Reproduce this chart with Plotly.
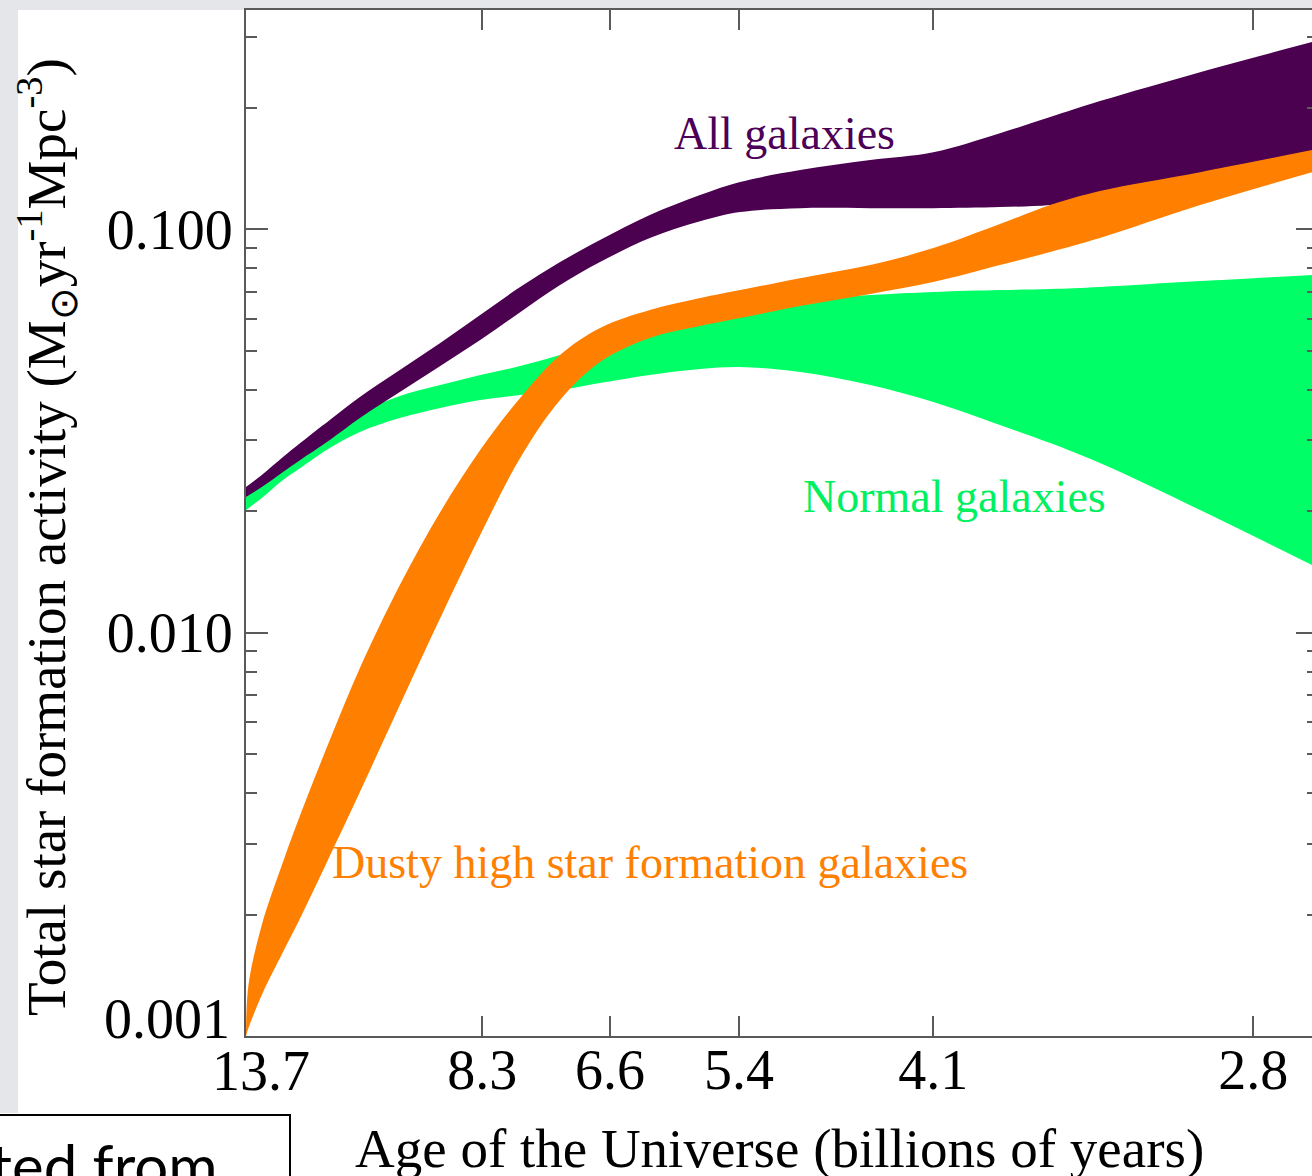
import plotly.graph_objects as go

# Abscissa is redshift; tick labels give the corresponding age of the Universe (Gyr)
z = [0.0, 0.032, 0.075, 0.110, 0.170, 0.231, 0.312, 0.394, 0.475, 0.556, 0.637, 0.718,
     0.819, 0.921, 1.002, 1.124, 1.266, 1.394, 1.529, 1.631, 1.732, 1.935, 2.162]

# All galaxies (upper / lower envelope), Msun yr^-1 Mpc^-3
all_hi = [0.02294, 0.02457, 0.02722, 0.02948, 0.03362, 0.03834, 0.04473, 0.05219, 0.06120,
          0.07183, 0.08283, 0.09391, 0.1083, 0.1214, 0.1308, 0.1400, 0.1483, 0.1551,
          0.1729, 0.1895, 0.2076, 0.2449, 0.2907]
all_lo = [0.02167, 0.02294, 0.02500, 0.02677, 0.03000, 0.03400, 0.03945, 0.04577, 0.05308,
          0.06225, 0.07265, 0.08283, 0.09500, 0.1045, 0.1102, 0.1127, 0.1127, 0.1127,
          0.1134, 0.1147, 0.1194, 0.1323, 0.1483]

# Normal galaxies
normal_hi = [0.02167, 0.02347, 0.02646, 0.02882, 0.03231, 0.03520, 0.03857, 0.04106, 0.04347,
             0.04577, 0.04873, 0.05219, 0.05620, 0.06017, 0.06370, 0.06668, 0.06862, 0.06982,
             0.07060, 0.07101, 0.07183, 0.07431, 0.07691]
normal_lo = [0.02012, 0.02154, 0.02387, 0.02557, 0.02866, 0.03140, 0.03400, 0.03600, 0.03770,
             0.03879, 0.03990, 0.04153, 0.04347, 0.04498, 0.04550, 0.04421, 0.04106, 0.03726,
             0.03268, 0.02948, 0.02630, 0.02012, 0.01470]

# Dusty high star formation galaxies
z_dusty = [0.0, 0.005, 0.032, 0.075, 0.110, 0.170, 0.231, 0.312, 0.394, 0.475, 0.556, 0.637,
           0.718, 0.819, 0.921, 1.002, 1.124, 1.266, 1.394, 1.529, 1.631, 1.732, 1.935, 2.162]
dusty_hi = [0.00100, 0.001338, 0.001884, 0.002699, 0.003530, 0.005415, 0.008166, 0.01311,
            0.01989, 0.02833, 0.03814, 0.04873, 0.05685, 0.06299, 0.06745, 0.07060, 0.07558,
            0.08142, 0.08972, 0.1029, 0.1147, 0.1243, 0.1384, 0.1570]
dusty_lo = [0.00100, 0.001047, 0.001264, 0.001615, 0.001961, 0.002793, 0.004024, 0.006611,
            0.01086, 0.01744, 0.02707, 0.03770, 0.04683, 0.05370, 0.05749, 0.06017, 0.06447,
            0.06901, 0.07388, 0.08142, 0.08770, 0.09500, 0.1147, 0.1384]

age_tick_z = [0.0, 0.479, 0.738, 1.0, 1.394, 2.043]
age_tick_text = ["13.7", "8.3", "6.6", "5.4", "4.1", "2.8"]
sfr_ticks = [0.001, 0.01, 0.1]
sfr_tick_text = ["0.001", "0.010", "0.100"]

PURPLE = "#4b0050"
GREEN = "#00ff66"
ORANGE = "#ff8000"
AXIS = "#5a5a5a"
SERIF = "Liberation Serif, Times New Roman, serif"
TICK_SIZE = 56

W, H = 1312, 1176
L, R, T, B = 246, 0, 10, 140


def px_x(px):
    return (px - L) / (W - L - R)


def px_y(py):
    return (H - B - py) / (H - T - B)


def band(fig, x, hi, lo, color):
    # lower envelope (invisible) followed by the upper envelope filled down to it
    fig.add_trace(go.Scatter(
        x=x, y=lo, mode="lines",
        line=dict(width=0, color=color, shape="spline", smoothing=1.0),
        hoverinfo="skip", showlegend=False))
    fig.add_trace(go.Scatter(
        x=x, y=hi, mode="lines", fill="tonexty", fillcolor=color,
        line=dict(width=0, color=color, shape="spline", smoothing=1.0),
        hoverinfo="skip", showlegend=False))


fig = go.Figure()
band(fig, z, normal_hi, normal_lo, GREEN)
band(fig, z, all_hi, all_lo, PURPLE)
band(fig, z_dusty, dusty_hi, dusty_lo, ORANGE)
fig.add_trace(go.Scatter(x=[], y=[], yaxis="y2", showlegend=False))

minor_vals = [m * d for d in (0.001, 0.01, 0.1) for m in range(2, 10)]
yrange = [-3, -0.457]

# the corner labels (13.7 and 0.001) are drawn separately, nudged off the corner
x_text = [""] + age_tick_text[1:]
y_text = [""] + sfr_tick_text[1:]

fig.update_layout(
    width=W, height=H,
    margin=dict(l=L, r=R, t=T, b=B),
    paper_bgcolor="white", plot_bgcolor="white",
    font=dict(family=SERIF, color="black"),
    xaxis=dict(
        range=[0, 2.162], tickvals=age_tick_z, ticktext=x_text,
        ticks="inside", ticklen=20, tickwidth=2, tickcolor=AXIS,
        showline=True, linecolor=AXIS, linewidth=2, mirror="ticks",
        showgrid=False, zeroline=False, ticklabelstandoff=-16,
        tickfont=dict(size=TICK_SIZE, family=SERIF),
    ),
    yaxis=dict(
        type="log", range=yrange, tickvals=sfr_ticks, ticktext=y_text,
        ticks="inside", ticklen=22, tickwidth=2, tickcolor=AXIS,
        showline=True, linecolor=AXIS, linewidth=2,
        showgrid=False, zeroline=False, tickfont=dict(size=TICK_SIZE, family=SERIF),
        minor=dict(tickvals=minor_vals, ticks="inside", ticklen=11, tickwidth=2,
                   tickcolor=AXIS, showgrid=False),
    ),
    yaxis2=dict(
        type="log", range=yrange, overlaying="y", side="right", anchor="x",
        tickvals=sfr_ticks, ticks="inside", ticklen=16, tickwidth=2, tickcolor=AXIS,
        showticklabels=False, showline=False, showgrid=False, zeroline=False,
        minor=dict(tickvals=minor_vals, ticks="inside", ticklen=5, tickwidth=2,
                   tickcolor=AXIS, showgrid=False),
    ),
)

fig.add_annotation(xref="x", yref="paper", x=age_tick_z[0], y=px_y(1071),
                   xanchor="center", yanchor="middle", xshift=15, showarrow=False,
                   text=age_tick_text[0], font=dict(family=SERIF, size=TICK_SIZE, color="black"))
fig.add_annotation(xref="paper", yref="paper", x=px_x(232), y=px_y(1019),
                   xanchor="right", yanchor="middle", showarrow=False,
                   text=sfr_tick_text[0], font=dict(family=SERIF, size=TICK_SIZE, color="black"))

# light frame around the figure
fig.add_shape(type="rect", xref="paper", yref="paper", layer="below",
              x0=px_x(-5), x1=px_x(18), y0=px_y(1113), y1=px_y(-5),
              fillcolor="#e4e6ea", line=dict(width=0))
fig.add_shape(type="rect", xref="paper", yref="paper", layer="below",
              x0=px_x(-5), x1=px_x(1320), y0=px_y(10), y1=px_y(-5),
              fillcolor="#e4e6ea", line=dict(width=0))

# credit box at the lower left
fig.add_shape(type="rect", xref="paper", yref="paper",
              x0=px_x(-10), x1=px_x(290), y0=px_y(1115), y1=px_y(1200),
              fillcolor="white", line=dict(width=2, color="black"))
fig.add_annotation(xref="paper", yref="paper", x=px_x(220), y=px_y(1127),
                   xanchor="right", yanchor="top", showarrow=False,
                   text="Adapted from", font=dict(family="Lato, sans-serif", size=60, color="black"))

# axis titles
fig.add_annotation(xref="paper", yref="paper", x=0.5, y=px_y(1148),
                   xanchor="center", yanchor="middle", showarrow=False,
                   text="Age of the Universe (billions of years)",
                   font=dict(family=SERIF, size=55, color="black"))
fig.add_annotation(xref="paper", yref="paper", x=px_x(47), y=px_y(537),
                   xanchor="center", yanchor="middle", showarrow=False, textangle=-90,
                   text="Total star formation activity (M<sub>⊙</sub>yr<sup>-1</sup>Mpc<sup>-3</sup>)",
                   font=dict(family=SERIF, size=55, color="black"))

# band labels (log axis: y given as log10 of the value)
fig.add_annotation(x=1.093, y=-0.762, text="All galaxies", showarrow=False,
                   font=dict(family=SERIF, size=46, color="#4d0057"))
fig.add_annotation(x=1.437, y=-1.664, text="Normal galaxies", showarrow=False,
                   font=dict(family=SERIF, size=46, color="#00f060"))
fig.add_annotation(x=0.8195, y=-2.569, text="Dusty high star formation galaxies", showarrow=False,
                   font=dict(family=SERIF, size=46, color=ORANGE))

fig.write_html("out.html")
